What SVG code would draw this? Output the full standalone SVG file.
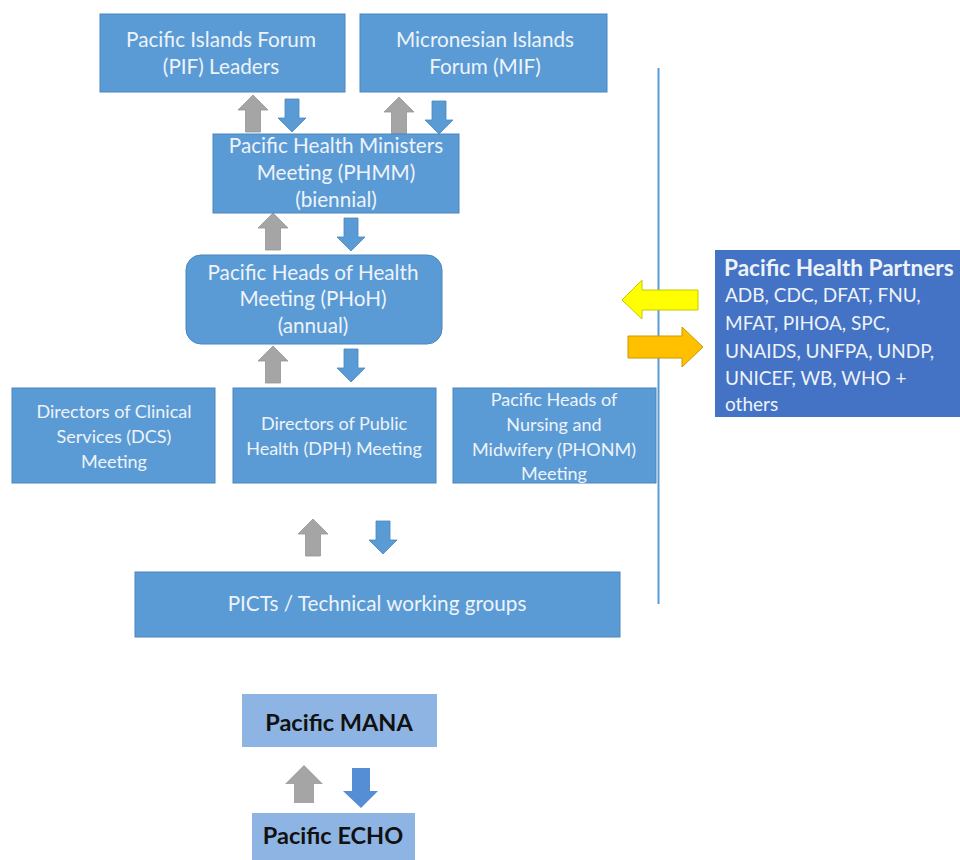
<svg xmlns="http://www.w3.org/2000/svg" width="960" height="860" viewBox="0 0 960 860">
<style>
.box{fill:#5b9bd5;stroke:#4a86bd;stroke-width:1}
.lt{fill:#8eb4e3}
.t{font-family:Lato,"Liberation Sans",sans-serif;fill:#eef3f9;text-anchor:middle;font-size:20.7px}
.s{font-size:18px}
.b{font-family:Lato,"Liberation Sans",sans-serif;font-weight:bold;fill:#111;text-anchor:middle;font-size:23.5px}
.p{font-family:Lato,"Liberation Sans",sans-serif;fill:#eef3f9;font-size:19px}
.ph{font-weight:bold;font-size:22.6px}
.up{fill:#a5a5a5;stroke:#949494;stroke-width:0.8}
.dn{fill:#5b9bd5;stroke:#4a86bd;stroke-width:0.8}
</style>
<defs>
<path id="upA" d="M0,0 L15,15 L7.5,15 L7.5,37 L-7.5,37 L-7.5,15 L-15,15 Z"/>
<path id="dnA" d="M-7,0 L7,0 L7,19 L14,19 L0,33 L-14,19 L-7,19 Z"/>
</defs>
<rect width="960" height="860" fill="#ffffff"/>

<g id="connectors">
<line x1="658.5" y1="68" x2="658.5" y2="604" stroke="#5b9bd5" stroke-width="2"/>
<use href="#upA" class="up" x="253" y="95"/>
<use href="#dnA" class="dn" x="292" y="99"/>
<use href="#upA" class="up" x="399" y="97"/>
<use href="#dnA" class="dn" x="439" y="101"/>
<use href="#upA" class="up" x="273" y="213"/>
<use href="#dnA" class="dn" x="351" y="218"/>
<use href="#upA" class="up" x="273" y="346"/>
<use href="#dnA" class="dn" x="351" y="349"/>
<use href="#upA" class="up" x="313" y="519"/>
<use href="#dnA" class="dn" x="383" y="521"/>
<path d="M304,765 L323,784 L314,784 L314,803 L294,803 L294,784 L285,784 Z" fill="#a5a5a5"/>
<path d="M352,768 L370,768 L370,791 L378,791 L361,808 L343,791 L352,791 Z" fill="#558ed5"/>
<path d="M698,290 L642,290 L642,280 L622,300 L642,319 L642,310 L698,310 Z" fill="#ffff00" stroke="#c8c800" stroke-width="1"/>
<path d="M628,336 L682,336 L682,327 L703,347 L682,367 L682,358 L628,358 Z" fill="#ffc000" stroke="#c99a00" stroke-width="1"/>
</g>

<g id="pif">
<rect class="box" x="100" y="14" width="245" height="78"/>
<text class="t" x="221" y="47">Pacific Islands Forum</text>
<text class="t" x="221" y="74">(PIF) Leaders</text>
</g>
<g id="mif">
<rect class="box" x="360" y="14" width="247" height="78"/>
<text class="t" x="485" y="47">Micronesian Islands</text>
<text class="t" x="485" y="74">Forum (MIF)</text>
</g>
<g id="phmm">
<rect class="box" x="213" y="134" width="246" height="79"/>
<text class="t" x="336" y="153">Pacific Health Ministers</text>
<text class="t" x="336" y="180">Meeting (PHMM)</text>
<text class="t" x="336" y="207">(biennial)</text>
</g>
<g id="phoh">
<rect class="box" x="186" y="255" width="256" height="89" rx="15"/>
<text class="t" x="313" y="280">Pacific Heads of Health</text>
<text class="t" x="313" y="306">Meeting (PHoH)</text>
<text class="t" x="313" y="333">(annual)</text>
</g>
<g id="dcs">
<rect class="box" x="12" y="388" width="203" height="95"/>
<text class="t s" x="114" y="418">Directors of Clinical</text>
<text class="t s" x="114" y="443">Services (DCS)</text>
<text class="t s" x="114" y="468">Meeting</text>
</g>
<g id="dph">
<rect class="box" x="233" y="388" width="203" height="95"/>
<text class="t s" x="334" y="430">Directors of Public</text>
<text class="t s" x="334" y="455">Health (DPH) Meeting</text>
</g>
<g id="phonm">
<rect class="box" x="453" y="388" width="203" height="95"/>
<text class="t s" x="554" y="406">Pacific Heads of</text>
<text class="t s" x="554" y="431">Nursing and</text>
<text class="t s" x="554" y="456">Midwifery (PHONM)</text>
<text class="t s" x="554" y="480">Meeting</text>
</g>
<g id="picts">
<rect class="box" x="135" y="572" width="485" height="65"/>
<text class="t" x="377" y="611">PICTs / Technical working groups</text>
</g>
<g id="partners">
<rect x="715" y="250" width="245" height="167" fill="#4472c4"/>
<text class="p ph" x="724" y="276">Pacific Health Partners</text>
<text class="p" x="725" y="302">ADB, CDC, DFAT, FNU,</text>
<text class="p" x="725" y="330">MFAT, PIHOA, SPC,</text>
<text class="p" x="725" y="358">UNAIDS, UNFPA, UNDP,</text>
<text class="p" x="725" y="385">UNICEF, WB, WHO +</text>
<text class="p" x="725" y="411">others</text>
</g>
<g id="mana">
<rect class="lt" x="242" y="694" width="195" height="53"/>
<text class="b" x="339" y="731">Pacific MANA</text>
</g>
<g id="echo">
<rect class="lt" x="252" y="813" width="163" height="47"/>
<text class="b" x="333" y="844">Pacific ECHO</text>
</g>
</svg>
